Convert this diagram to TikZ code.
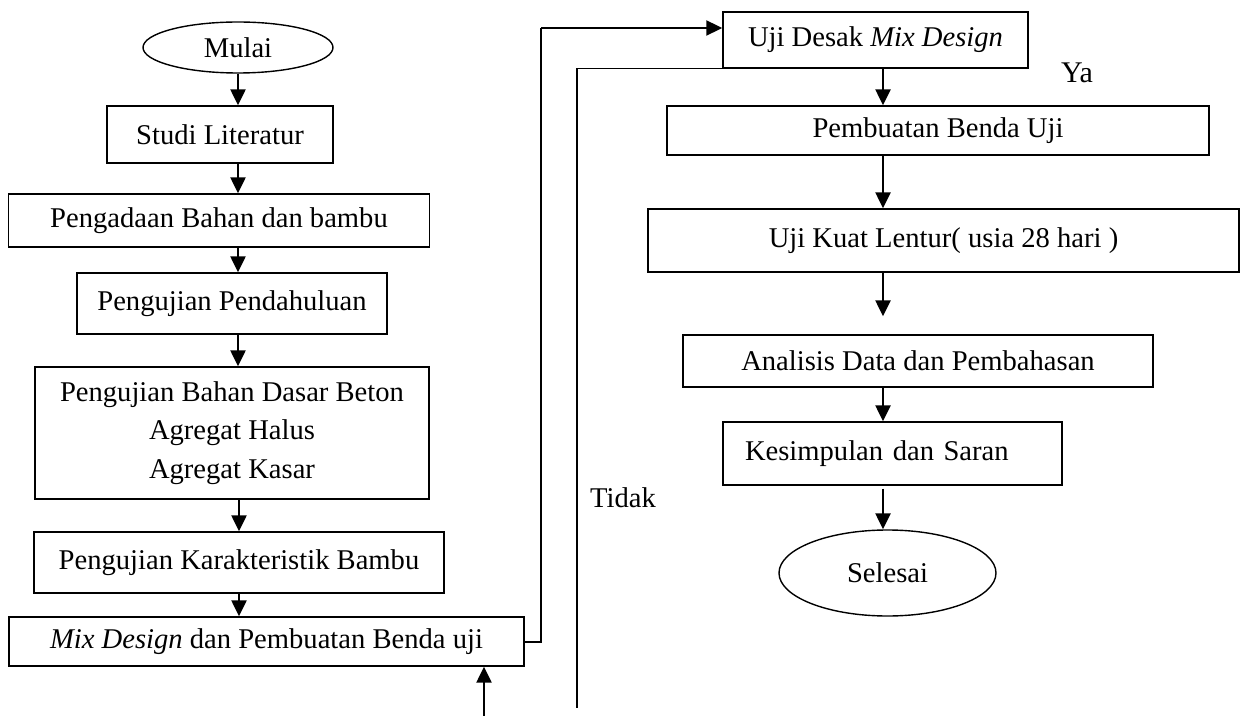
\documentclass[tikz,border=0pt]{standalone}
\usepackage{fontspec}
\setmainfont{Liberation Serif}
\usetikzlibrary{arrows.meta,shapes.geometric}
\tikzset{
  txt/.style={font=\fontsize{14.3}{19.25}\selectfont},
  box/.style={txt,draw,line width=0.7pt,inner sep=0pt,align=center},
  oval/.style={txt,draw,ellipse,line width=0.7pt,inner sep=0pt},
  arr/.style={line width=1.2pt,-{Triangle[length=8pt,width=7.5pt]}},
  fb/.style={line width=1pt},
  thinline/.style={line width=0.7pt}
}
\begin{document}
\begin{tikzpicture}[x=0.5pt,y=-0.5pt]
\useasboundingbox (0,0) rectangle (1241,716);
% left column
\node[oval,minimum width=95pt,minimum height=25.5pt] (mulai) at (238,47.5) {Mulai};
\node[box,minimum width=113pt,minimum height=28.5pt] (studi) at (220,134.5) {Studi Literatur};
\node[box,minimum width=210.5pt,minimum height=26.5pt] (pengadaan) at (219,220.5) {Pengadaan Bahan dan bambu};
\node[box,minimum width=155pt,minimum height=30.5pt] (pendahuluan) at (232,303.5) {Pengujian Pendahuluan};
\node[box,minimum width=197pt,minimum height=66pt] (bahan) at (232,433) {Pengujian Bahan Dasar Beton\\Agregat Halus\\Agregat Kasar};
\node[box,minimum width=205pt,minimum height=30.5pt] (karakter) at (239,562.5) {Pengujian Karakteristik Bambu};
\node[box,minimum width=257.5pt,minimum height=24.5pt] (mix) at (266.5,641.5) {\textit{Mix Design} dan Pembuatan Benda uji};
% right column
\node[box,minimum width=152.5pt,minimum height=28pt] (desak) at (875.5,40) {Uji Desak \textit{Mix Design}};
\node[box,minimum width=271pt,minimum height=24.5pt] (pembuatan) at (938,130.5) {Pembuatan Benda Uji};
\node[box,minimum width=295.5pt,minimum height=31.5pt] (kuat) at (943.5,240.5) {Uji Kuat Lentur( usia 28 hari )};
\node[box,minimum width=235pt,minimum height=26pt] (analisis) at (918,361) {Analisis Data dan Pembahasan};
\node[box,text width=147.5pt,inner xsep=11pt,align=left,minimum height=31.5pt] (kesimpulan) at (892.5,453.5) {Kesimpulan dan Saran};
\node[oval,minimum width=108.5pt,minimum height=43pt] (selesai) at (887.5,573) {Selesai};
% labels
\node[txt,font=\fontsize{15}{18}\selectfont] (ya) at (1077,73) {Ya};
\node[txt] (tidak) at (623,498) {Tidak};
% helper coordinates
\coordinate (rx) at (883,0);
\coordinate (loopx) at (541,28);
\coordinate (tbot) at (577,708);
\coordinate (upin) at (484,716);
% left arrows
\draw[arr] (mulai.south) -- (mulai.south |- studi.north);
\draw[arr] (studi.south -| mulai) -- (mulai |- pengadaan.north);
\draw[arr] (pengadaan.south -| mulai) -- (mulai |- pendahuluan.north);
\draw[arr] (pendahuluan.south -| mulai) -- (mulai |- bahan.north);
\draw[arr] (bahan.south -| karakter) -- (karakter.north);
\draw[arr] (karakter.south) -- (karakter |- mix.north);
\draw[arr] (upin) -- (upin |- mix.south);
% feedback loop
\draw[fb] (mix.east) -| (loopx);
\draw[arr,line width=1pt] (loopx) -- (loopx -| desak.west);
\draw[thinline] (desak.south west) -- (desak.south west -| tbot) -- (tbot);
% right arrows
\draw[arr] (desak.south -| rx) -- (rx |- pembuatan.north);
\draw[arr] (pembuatan.south -| rx) -- (rx |- kuat.north);
\draw[arr,shorten >=9pt] (kuat.south -| rx) -- (rx |- analisis.north);
\draw[arr] (analisis.south -| rx) -- (rx |- kesimpulan.north);
\draw[arr,shorten <=1.5pt] (kesimpulan.south -| rx) -- (rx |- selesai.north);
\end{tikzpicture}
\end{document}
